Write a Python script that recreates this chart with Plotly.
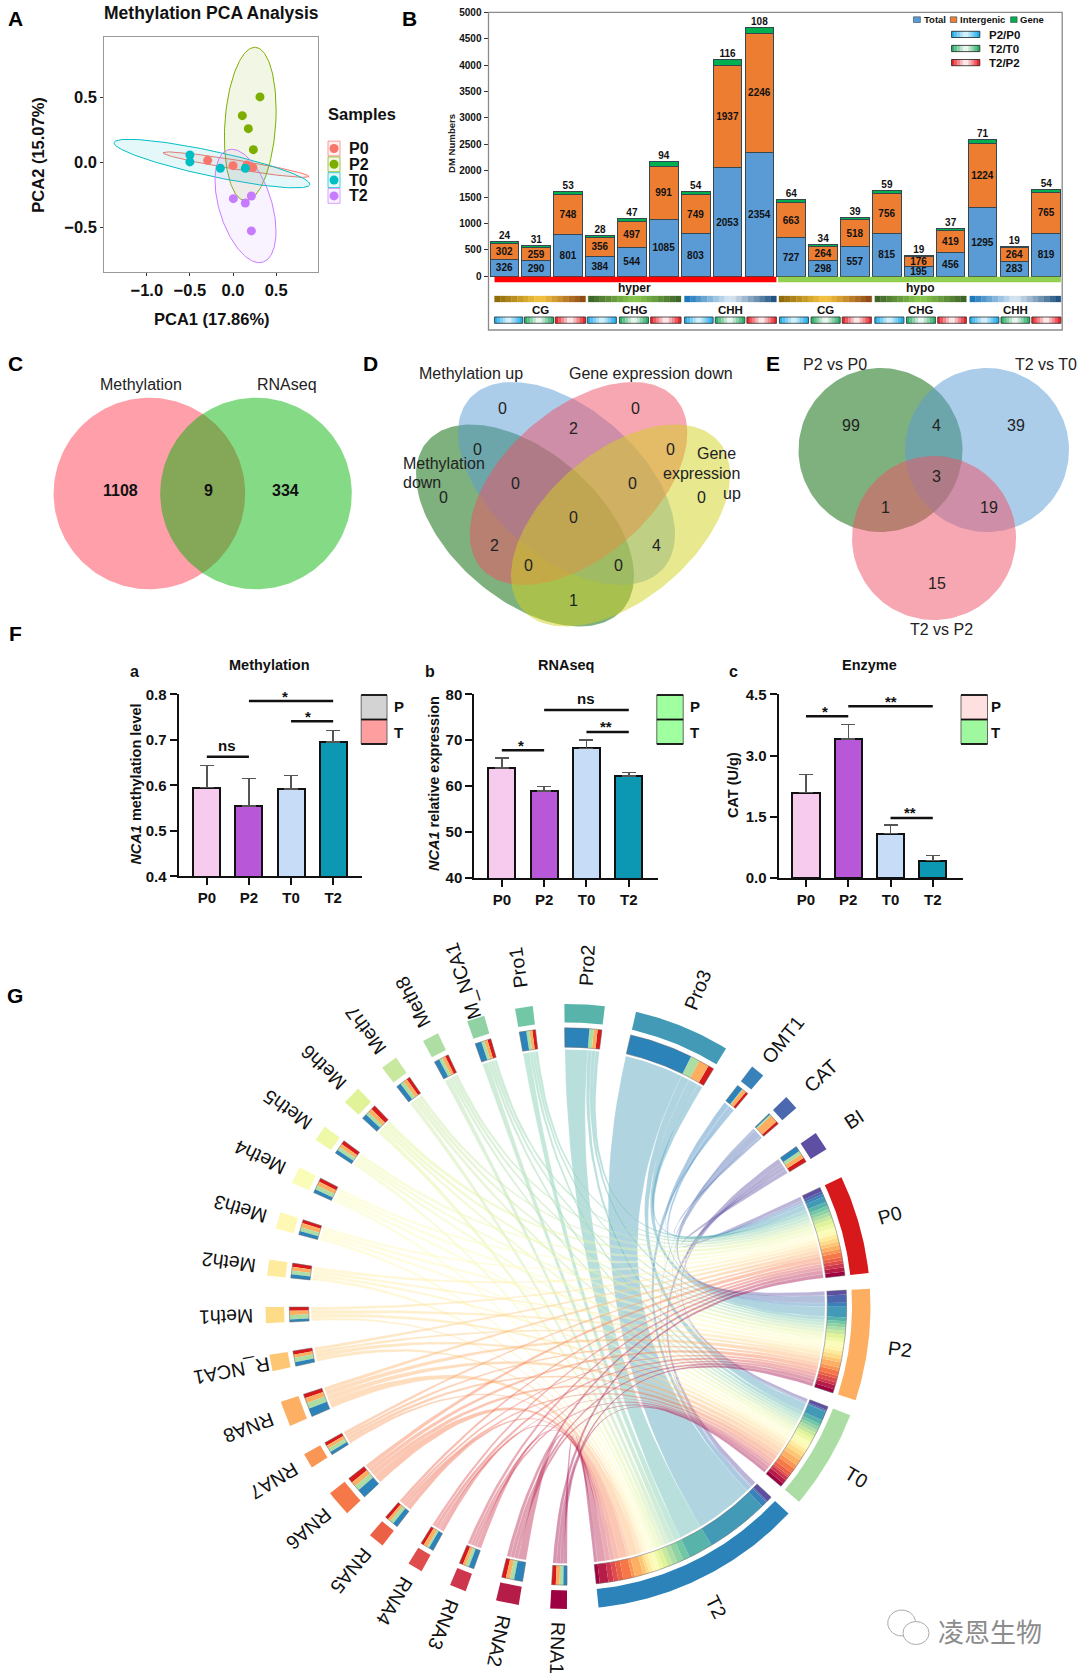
import numpy as np
import plotly.graph_objects as go

W, H = 1080, 1678
FONT = "Liberation Sans"

# ---------- data ----------
PCA_GROUPS = ["P0", "P2", "T0", "T2"]
PCA_COLORS = ["#F8766D", "#7CAE00", "#00BFC4", "#C77CFF"]
PCA_X = [[-0.294, 0.0, 0.16, 0.23], [0.313, 0.108, 0.178, 0.236],
         [-0.5, -0.5, -0.147, 0.143], [0.004, 0.143, 0.213, 0.213]]
PCA_Y = [[0.015, -0.026, -0.02, -0.04], [0.503, 0.359, 0.259, 0.097],
         [0.056, 0.003, -0.046, -0.046], [-0.28, -0.313, -0.259, -0.528]]
# centre x, centre y, half width, half height, correlation
PCA_ELL = [(0.035, -0.018, 0.847, 0.098, -0.93), (0.2, 0.295, 0.3, 0.59, 0.18),
           (-0.245, -0.01, 1.135, 0.187, -0.85), (0.145, -0.336, 0.354, 0.436, -0.45)]

DM_TOTAL = [326, 290, 801, 384, 544, 1085, 803, 2053, 2354, 727, 298, 557, 815, 195, 456, 1295, 283, 819]
DM_INTER = [302, 259, 748, 356, 497, 991, 749, 1937, 2246, 663, 264, 518, 756, 176, 419, 1224, 264, 765]
DM_GENE = [24, 31, 53, 28, 47, 94, 54, 116, 108, 64, 34, 39, 59, 19, 37, 71, 19, 54]

BAR_CATS = ["P0", "P2", "T0", "T2"]
BAR_COLORS = ["#F7CBEE", "#B857D8", "#C7DDF7", "#0C98B2"]
METH_V = [0.595, 0.555, 0.592, 0.695]
METH_E = [0.048, 0.060, 0.030, 0.025]
RNA_V = [64.0, 58.9, 68.2, 62.2]
RNA_E = [2.1, 1.05, 1.8, 0.8]
ENZ_V = [2.09, 3.405, 1.086, 0.425]
ENZ_E = [0.45, 0.36, 0.214, 0.13]

SIG_METH = [(0, 1, 0.663, "ns", 0.48), (1, 3, 0.785, "*", 1.855), (2, 3, 0.741, "*", 2.4)]
SIG_RNA = [(0, 1, 67.8, "*", 0.45), (2, 3, 71.8, "**", 2.46), (1, 3, 76.6, "ns", 1.98)]
SIG_ENZ = [(0, 1, 3.96, "*", 0.46), (1, 3, 4.21, "**", 2.02), (2, 3, 1.47, "**", 2.46)]

CH_ITEMS = ["RNA1", "RNA2", "RNA3", "RNA4", "RNA5", "RNA6", "RNA7", "RNA8", "R_NCA1",
            "Meth1", "Meth2", "Meth3", "Meth4", "Meth5", "Meth6", "Meth7", "Meth8", "M_NCA1",
            "Pro1", "Pro2", "Pro3", "OMT1", "CAT", "BI"]
CH_SAMPLES = ["P0", "P2", "T0", "T2"]
CH_SAMPLE_COLORS = ["#D7191C", "#FDAE61", "#ABDDA4", "#2B83BA"]
CH_P0 = [.86, .87, .78, .64, .68, 1.03, .70, .85, .76, .74, .78, .70, .78, .83, .96, .72, .70, .74, .68, .9, 1.2, .54, .56, .93]
CH_P2 = [.78, .86, .62, .84, .6, .98, .7, 1.1, .68, .9, .75, .93, .9, .75, .88, .8, .71, .66, .6, .8, 2.2, .81, 1.68, .93]
CH_T0 = [.78, .86, .7, .42, .75, 1.1, .84, 1.2, .93, .9, .8, .78, .86, .75, .7, .8, .68, .66, .66, .9, 1.9, .14, .28, .74]
CH_T2 = [.76, 1.8, 1.08, .98, 1.05, 1.86, .64, 1.73, .81, .54, .75, .77, .74, .75, 1.05, .96, 1.09, 1.32, 1.45, 5.1, 13.2, 1.21, .28, 1.11]
SPECTRAL = ["#9E0142", "#D53E4F", "#F46D43", "#FDAE61", "#FEE08B", "#FFFFBF",
            "#E6F598", "#ABDDA4", "#66C2A5", "#3288BD", "#5E4FA2"]

VENN_D_NUM = [("0", 729, 204), ("0", 923, 204), ("2", 833, 266), ("0", 694, 328), ("0", 973, 328),
              ("0", 749, 430), ("0", 918, 430), ("0", 644, 472), ("0", 1018, 472), ("0", 833, 533),
              ("2", 718, 615), ("4", 953, 615), ("0", 768, 677), ("0", 898, 677), ("1", 833, 780)]
VENN_E_NUM = [("99", 851, 425), ("4", 936, 425), ("39", 1016, 425), ("3", 936, 476),
              ("1", 885, 507), ("19", 989, 507), ("15", 937, 583)]

# ---------- helpers ----------
def hex2rgb(h):
    return tuple(int(h[i:i + 2], 16) for i in (1, 3, 5))

def rgba(h, a):
    r, g, b = hex2rgb(h)
    return f"rgba({r},{g},{b},{a})"

def ramp(stops, t):
    p = t * (len(stops) - 1)
    i = min(int(p), len(stops) - 2)
    f = p - i
    a, b = hex2rgb(stops[i]), hex2rgb(stops[i + 1])
    return "#%02X%02X%02X" % tuple(round(a[k] + (b[k] - a[k]) * f) for k in range(3))

def ell(cx, cy, rx, ry, rho):
    t = np.linspace(0, 2 * np.pi, 161)
    return cx + rx * np.cos(t), cy + ry * np.cos(t - np.arccos(rho))

fig = go.Figure()
shapes, annos = [], []

def txt(x, y, s, size=16, color="#111", xa="center", ya="middle", angle=0, xref="x", yref="y", yshift=0):
    annos.append(dict(x=x, y=y, text=s, xref=xref, yref=yref, showarrow=False, xanchor=xa, yanchor=ya,
                      textangle=angle, yshift=yshift, font=dict(family=FONT, size=size, color=color),
                      borderpad=0, borderwidth=0))

def rect(x0, y0, x1, y1, fill=None, line=None, lw=1):
    shapes.append(dict(type="rect", xref="x", yref="y", x0=x0, x1=x1, y0=y0, y1=y1,
                       fillcolor=fill or "rgba(0,0,0,0)", line=dict(color=line or "rgba(0,0,0,0)", width=lw if line else 0)))

def grad(x0, x1, y0, y1, stops, n=14, outline=None):
    dx = (x1 - x0) / n
    for i in range(n):
        c = ramp(stops, (i + .5) / n)
        shapes.append(dict(type="rect", xref="x", yref="y", x0=x0 + i * dx, x1=x0 + (i + 1) * dx, y0=y0, y1=y1,
                           fillcolor=c, line=dict(color=c, width=.3)))
    if outline:
        rect(x0, y0, x1, y1, None, outline, .8)

def poly(xs, ys, fill, line=None, lw=0, xa="x", ya="y"):
    fig.add_trace(go.Scatter(x=xs, y=ys, mode="lines", fill="toself", fillcolor=fill, xaxis=xa, yaxis=ya,
                             line=dict(color=line or "rgba(0,0,0,0)", width=lw), hoverinfo="skip", showlegend=False))

def dom_x(a, b):
    return [a / W, b / W]

def dom_y(top, bottom):
    return [1 - bottom / H, 1 - top / H]

# ---------- panel letters ----------
for s, x, y in [("A", 15, 18), ("B", 409, 18), ("C", 15, 363), ("D", 370, 363),
                ("E", 773, 363), ("F", 15, 633), ("G", 15, 995)]:
    txt(x, y, f"<b>{s}</b>", 21, "#000")

# ---------- A : PCA ----------
for i, g in enumerate(PCA_GROUPS):
    ex, ey = ell(*PCA_ELL[i])
    poly(ex, ey, rgba(PCA_COLORS[i], .1), PCA_COLORS[i], 1, "x2", "y2")
for i, g in enumerate(PCA_GROUPS):
    fig.add_trace(go.Scatter(x=PCA_X[i], y=PCA_Y[i], mode="markers", xaxis="x2", yaxis="y2", showlegend=False,
                             marker=dict(color=PCA_COLORS[i], size=9, line=dict(width=0)), hoverinfo="skip"))
txt(211.5, 13, "<b>Methylation PCA Analysis</b>", 17.5, "#111")
txt(211.7, 319, "<b>PCA1 (17.86%)</b>", 16.5)
txt(37.7, 155, "<b>PCA2 (15.07%)</b>", 16.5, angle=-90)
txt(328, 114, "<b>Samples</b>", 16.5, xa="left")
for i, g in enumerate(PCA_GROUPS):
    yc = 148.5 + i * 15.8
    rect(328, yc - 7.4, 340, yc + 7.4, rgba(PCA_COLORS[i], .1), rgba(PCA_COLORS[i], .7), 1)
    txt(349, yc, f"<b>{g}</b>", 16, xa="left")
fig.add_trace(go.Scatter(x=[334] * 4, y=[148.5 + i * 15.8 for i in range(4)], mode="markers", showlegend=False,
                         marker=dict(color=PCA_COLORS, size=9), hoverinfo="skip"))

# ---------- B : stacked bars ----------
BX = list(range(18))
for vals, col, lab in [(DM_TOTAL, "#5B9BD5", True), (DM_INTER, "#ED7D31", True), (DM_GENE, "#00B050", False)]:
    fig.add_trace(go.Bar(x=BX, y=vals, width=.9, xaxis="x3", yaxis="y3", showlegend=False,
                         marker=dict(color=col, line=dict(color="#37474F", width=1)),
                         text=[f"<b>{v}</b>" for v in vals] if lab else None,
                         textposition="inside" if lab else "none", insidetextanchor="middle",
                         textangle=0, constraintext="none",
                         textfont=dict(family=FONT, size=10, color="#111"), hoverinfo="skip"))
tops = [a + b + c for a, b, c in zip(DM_TOTAL, DM_INTER, DM_GENE)]
fig.add_trace(go.Scatter(x=BX, y=tops, mode="text", text=[f"<b>{v}</b>" for v in DM_GENE], textposition="top center",
                         textfont=dict(family=FONT, size=10, color="#111"), xaxis="x3", yaxis="y3",
                         showlegend=False, hoverinfo="skip", cliponaxis=False))
rect(488.5, 12.3, 1062.2, 330, None, "#8A8A8A", 1.3)
txt(451, 144, "<b>DM Numbers</b>", 9.6, angle=-90, color="#222")
zb = lambda v: 400 + v / 2.306
rect(zb(218), 276.8, zb(868), 282.3, "#FF0000")
rect(zb(872), 276.8, zb(1524), 282.3, "#92D050")
txt(zb(540), 288, "<b>hyper</b>", 12)
txt(zb(1200), 288, "<b>hypo</b>", 12)
CG_S = ["#8A6508", "#F7C63F", "#8B4513"]
CHG_S = ["#3A5F26", "#8CCB4F", "#3A5F26"]
CHH_S = ["#1170B8", "#DDEAF5", "#164B7A"]
GROUP_EDGES = [(218, 428), (434, 648), (656, 868), (874, 1088), (1095, 1306), (1314, 1524)]
for (a, b), st, nm in zip(GROUP_EDGES, [CG_S, CHG_S, CHH_S] * 2, ["CG", "CHG", "CHH"] * 2):
    grad(zb(a), zb(b), 296, 302, st, 16)
    txt(zb((a + b) / 2), 309.5, f"<b>{nm}</b>", 11.5)
KEY_S = [["#0FA7E8", "#E8F7FF", "#0FA7E8"], ["#19A85A", "#FFFFFF", "#19A85A"], ["#E8101A", "#FFFFFF", "#E8101A"]]
SMALL = [(218, 283), (287, 354), (358, 428), (432, 499), (506, 573), (578, 648), (656, 722), (727, 795), (800, 868),
         (875, 942), (948, 1015), (1020, 1087), (1095, 1162), (1168, 1235), (1240, 1306), (1314, 1381), (1386, 1452), (1457, 1524)]
for i, (a, b) in enumerate(SMALL):
    grad(zb(a), zb(b), 317, 323.3, KEY_S[i % 3], 10, "#333")
for a, b, c, name, tx in [(1184, 1200, "#5B9BD5", "Total", 1208), (1269, 1284, "#ED7D31", "Intergenic", 1292), (1408, 1423, "#00B050", "Gene", 1430)]:
    rect(zb(a), 16.8, zb(b), 22.5, c, "#37474F", .6)
    txt(zb(tx), 19.7, f"<b>{name}</b>", 9.5, xa="left")
for i, nm in enumerate(["P2/P0", "T2/T0", "T2/P2"]):
    y = 31.3 + i * 14.1
    grad(zb(1272), zb(1337), y, y + 6.2, KEY_S[i], 10, "#222")
    txt(zb(1358), y + 3.2, f"<b>{nm}</b>", 11.5, xa="left")

# ---------- C / D / E : Venns ----------
PINK_C, GREEN_C = "rgba(255,64,85,.5)", "rgba(0,178,0,.48)"
for (cx, cy, r), col in [((149.4, 493.5, 95.8), PINK_C), ((256, 493.5, 95.8), GREEN_C)]:
    ex, ey = ell(cx, cy, r, r, 0.0001)
    poly(ex, ey, col)
txt(141, 384, "Methylation", 16, "#222")
txt(286.5, 384, "RNAseq", 16, "#222")
txt(120.5, 490, "<b>1108</b>", 16)
txt(208, 490, "<b>9</b>", 16)
txt(285, 490, "<b>334</b>", 16)

V_BLUE, V_PINK, V_GREEN, V_YEL = "rgba(90,155,213,.5)", "rgba(240,80,100,.5)", "rgba(0,100,0,.5)", "rgba(210,210,30,.5)"
for p, col in [((525, 525.5, 109, 101, .5), V_GREEN), ((566.5, 483.5, 108.5, 101.5, .5), V_BLUE),
               ((578.5, 483.5, 108.8, 101.5, -.5), V_PINK), ((620.5, 525.5, 109.5, 101, -.5), V_YEL)]:
    ex, ey = ell(*p)
    poly(ex, ey, col)
for s, zx, zy in VENN_D_NUM:
    txt(zx / 1.452, zy / 3 + 340, s, 16, "#222")
txt(471, 373.7, "Methylation up", 16, "#222")
txt(651, 373.7, "Gene expression down", 16, "#222")
txt(403, 463, "Methylation", 16, "#222", xa="left")
txt(403, 482.7, "down", 16, "#222", xa="left")
txt(697, 453, "Gene", 16, "#222", xa="left")
txt(662.5, 473, "expression", 16, "#222", xa="left")
txt(723, 493, "up", 16, "#222", xa="left")

for (cx, cy, r), col in [((880.5, 450, 82), V_GREEN), ((987, 450, 82), V_BLUE), ((934, 538, 82), V_PINK)]:
    ex, ey = ell(cx, cy, r, r, 0.0001)
    poly(ex, ey, col)
for s, x, y in VENN_E_NUM:
    txt(x, y, s, 16, "#222")
txt(835, 364, "P2 vs P0", 16, "#222")
txt(1046, 364, "T2 vs T0", 16, "#222")
txt(941.5, 629, "T2 vs P2", 16, "#222")

# ---------- F : bars ----------
panels = [("x4", "y4", METH_V, METH_E, SIG_METH), ("x5", "y5", RNA_V, RNA_E, SIG_RNA), ("x6", "y6", ENZ_V, ENZ_E, SIG_ENZ)]
for xa, ya, v, e, sig in panels:
    fig.add_trace(go.Bar(x=[0, 1, 2, 3], y=v, width=.64, xaxis=xa, yaxis=ya, showlegend=False, hoverinfo="skip",
                         marker=dict(color=BAR_COLORS, line=dict(color="#111", width=2)),
                         error_y=dict(type="data", symmetric=False, array=e, arrayminus=[0] * 4,
                                      color="#555", thickness=1.5, width=7)))
    for a, b, y, s, lx in sig:
        shapes.append(dict(type="line", xref=xa, yref=ya, x0=a, x1=b, y0=y, y1=y, line=dict(color="#111", width=2.5)))
        txt(lx, y, f"<b>{s}</b>", 15, xref=xa, yref=ya, yshift=11 if s == "ns" else 5)
for s, tx, lx, ly in [("Methylation", 269.3, 134.4, 671.7), ("RNAseq", 565.6, 430, 671.7), ("Enzyme", 869.8, 733, 671.7)]:
    txt(tx, 665, f"<b>{s}</b>", 14.5)
    txt(lx, ly, f"<b>{'abc'[['Methylation', 'RNAseq', 'Enzyme'].index(s)]}</b>", 16)
txt(135.6, 784, "<b><i>NCA1</i> methylation level</b>", 14.5, angle=-90)
txt(434, 784, "<b><i>NCA1</i> relative expression</b>", 14.5, angle=-90)
txt(733, 785, "<b>CAT (U/g)</b>", 14.5, angle=-90)
for x0, x1, tx, c1, c2 in [(361.2, 387, 398.5, "#D3D3D3", "#FF9E9E"), (656.8, 683.2, 694.7, "#A0FF9E", "#A0FF9E"),
                           (961, 987.5, 995.5, "#FFE0E0", "#9FF79E")]:
    rect(x0, 695, x1, 719.5, c1)
    rect(x0, 719.5, x1, 744, c2)
    rect(x0, 695, x1, 744, None, "#666", 1)
    for yy in (695, 719.5, 744):
        shapes.append(dict(type="line", xref="x", yref="y", x0=x0, x1=x1, y0=yy, y1=yy, line=dict(color="#111", width=1.8)))
    txt(tx, 706, "<b>P</b>", 15)
    txt(tx, 732, "<b>T</b>", 15)

# ---------- G : chord ----------
CX, CY = 568.0, 1306.5
R_OUT0, R_OUT1, R_IN0, R_IN1, R_RIB = 284.0, 302.5, 259.3, 278.7, 257.0
ITEM_COLORS = [ramp(SPECTRAL, i / 23) for i in range(24)]
MAT = np.array([CH_P0, CH_P2, CH_T0, CH_T2], dtype=float)  # sample x item
item_w = MAT.sum(axis=0)
samp_w = MAT.sum(axis=1)
GAP_S, GAP_I = 3.0, 6.0
total_gap = 3 * GAP_S + GAP_I * 25
scale = (360 - total_gap) / (item_w.sum() + samp_w.sum())

def pt(th, r):
    a = np.radians(th)
    return CX + r * np.sin(a), CY - r * np.cos(a)

def arc(a0, a1, r, n=None):
    n = n or max(2, int(abs(a1 - a0) * 2) + 2)
    return pt(np.linspace(a0, a1, n), r)

def band(a0, a1, r0, r1):
    x1, y1 = arc(a0, a1, r1)
    x0, y0 = arc(a1, a0, r0)
    return np.r_[x1, x0, x1[0]], np.r_[y1, y0, y1[0]]

sample_span, item_span = [], []
ang = 64.7
for i in range(4):
    sample_span.append((ang, ang + samp_w[i] * scale))
    ang += samp_w[i] * scale + (GAP_S if i < 3 else GAP_I)
for j in range(24):
    item_span.append((ang, ang + item_w[j] * scale))
    ang += item_w[j] * scale + GAP_I

s_pos = {}
for i in range(4):
    c = sample_span[i][0]
    for j in range(23, -1, -1):
        s_pos[(i, j)] = (c, c + MAT[i, j] * scale)
        c += MAT[i, j] * scale
i_pos = {}
for j in range(24):
    c = item_span[j][0]
    for i in [3, 2, 1, 0]:
        i_pos[(i, j)] = (c, c + MAT[i, j] * scale)
        c += MAT[i, j] * scale

def qcurve(p0, p1):
    t = np.linspace(0, 1, 32)
    x = (1 - t) ** 2 * p0[0] + 2 * t * (1 - t) * CX + t ** 2 * p1[0]
    y = (1 - t) ** 2 * p0[1] + 2 * t * (1 - t) * CY + t ** 2 * p1[1]
    return x, y

for j in range(23, -1, -1):
    for i in [0, 1, 2, 3]:
        a0, a1 = i_pos[(i, j)]
        b0, b1 = s_pos[(i, j)]
        ax, ay = arc(a0, a1, R_RIB)
        bx, by = arc(b0, b1, R_RIB)
        c1x, c1y = qcurve((ax[-1], ay[-1]), (bx[0], by[0]))
        c2x, c2y = qcurve((bx[-1], by[-1]), (ax[0], ay[0]))
        poly(np.r_[ax, c1x, bx, c2x], np.r_[ay, c1y, by, c2y], rgba(ITEM_COLORS[j], .42),
             "rgba(255,255,255,.35)", .4)

for j in range(24):
    a0, a1 = item_span[j]
    bx, by = band(a0, a1, R_OUT0, R_OUT1)
    poly(bx, by, ITEM_COLORS[j])
    for i in range(4):
        p0, p1 = i_pos[(i, j)]
        bx, by = band(p0, p1, R_IN0, R_IN1)
        poly(bx, by, CH_SAMPLE_COLORS[i])
    bx, by = band(a0, a1, R_IN0, R_IN1)
    fig.add_trace(go.Scatter(x=bx, y=by, mode="lines", line=dict(color="#666", width=.5), hoverinfo="skip", showlegend=False))
for i in range(4):
    a0, a1 = sample_span[i]
    bx, by = band(a0, a1, R_OUT0, R_OUT1)
    poly(bx, by, CH_SAMPLE_COLORS[i])
    for j in range(24):
        p0, p1 = s_pos[(i, j)]
        bx, by = band(p0, p1, R_IN0, R_IN1)
        poly(bx, by, ITEM_COLORS[j])
    bx, by = band(a0, a1, R_IN0, R_IN1)
    fig.add_trace(go.Scatter(x=bx, y=by, mode="lines", line=dict(color="#666", width=.5), hoverinfo="skip", showlegend=False))

LABEL_SIZE = 19.5
def label_at(name, span, radius):
    mid = sum(span) / 2
    x, y = pt(mid, radius)
    txt(float(x), float(y), name, LABEL_SIZE, "#111", angle=mid - 90)
for j, n in enumerate(CH_ITEMS):
    label_at(n, item_span[j], 342)
for i, n in enumerate(CH_SAMPLES):
    label_at(n, sample_span[i], 335)

# watermark
for p in [(901.7, 1623, 14, 13), (916, 1633, 13, 11.5)]:
    ex, ey = ell(p[0], p[1], p[2], p[3], 0.0001)
    poly(ex, ey, "#FFFFFF", "#AAAAAA", 1)
txt(938, 1630, "凌恩生物", 26, "#8C8C8C", xa="left")
annos[-1]["font"]["family"] = "Noto Sans CJK SC"

# ---------- axes ----------
hidden = dict(visible=False, showgrid=False, zeroline=False, fixedrange=True)
layout = dict(
    width=W, height=H, autosize=False, margin=dict(l=0, r=0, t=0, b=0, pad=0, autoexpand=False),
    paper_bgcolor="white", plot_bgcolor="rgba(0,0,0,0)", barmode="stack", showlegend=False,
    font=dict(family=FONT),
    xaxis=dict(hidden, domain=[0, 1], range=[0, W]),
    yaxis=dict(hidden, domain=[0, 1], range=[H, 0], anchor="x"),
    shapes=shapes, annotations=annos,
)
tf = lambda s: dict(family=FONT, size=s, color="#111", weight="bold")
layout["xaxis2"] = dict(domain=dom_x(104.3, 318), range=[-1.493, 0.986], anchor="y2", showgrid=False, zeroline=False,
                        tickvals=[-1, -.5, 0, .5], tickformat=".1f", tickfont=tf(16.5), ticks="outside", ticklen=3,
                        tickcolor="#333", showline=True, mirror=True, linecolor="#999", linewidth=1.2)
layout["yaxis2"] = dict(domain=dom_y(37, 272), range=[-0.844, 0.964], anchor="x2", showgrid=False, zeroline=False,
                        tickvals=[-.5, 0, .5], tickformat=".1f", tickfont=tf(16.5), ticks="outside", ticklen=3,
                        tickcolor="#333", showline=True, mirror=True, linecolor="#999", linewidth=1.2)
layout["xaxis3"] = dict(domain=dom_x(488.5, 1062.2), range=[-.5, 17.5], anchor="y3", visible=False)
layout["yaxis3"] = dict(domain=dom_y(12.3, 330), range=[-1017, 5000], anchor="x3", showgrid=False, zeroline=False,
                        tickvals=list(range(0, 5001, 500)), tickfont=tf(10), ticks="outside", ticklen=4, tickcolor="#333")
geo = [("4", 178.6, 361.8, 694.3, 876.3, [-.67, 3.68], [.4, .8], [.4, .5, .6, .7, .8], ".1f"),
       ("5", 474.3, 658, 694.3, 878, [-.65, 3.69], [40, 80], [40, 50, 60, 70, 80], "d"),
       ("6", 778.5, 962.8, 694.3, 878, [-.65, 3.71], [0, 4.5], [0, 1.5, 3, 4.5], ".1f")]
for n, l, r, t, b, xr, yr, yt, fmt in geo:
    layout["xaxis" + n] = dict(domain=dom_x(l, r), range=xr, anchor="y" + n, showgrid=False, zeroline=False,
                               tickvals=[0, 1, 2, 3], ticktext=BAR_CATS, tickfont=tf(15), ticks="outside", ticklen=7,
                               tickwidth=2, tickcolor="#111", showline=True, linecolor="#111", linewidth=2)
    layout["yaxis" + n] = dict(domain=dom_y(t, b), range=yr, anchor="x" + n, showgrid=False, zeroline=False,
                               tickvals=yt, tickformat=fmt, tickfont=tf(15), ticks="outside", ticklen=7,
                               tickwidth=2, tickcolor="#111", showline=True, linecolor="#111", linewidth=2)
fig.update_layout(**layout)
fig.write_html("out.html", config=dict(displayModeBar=False),
               post_script="document.body.style.margin='0';")
